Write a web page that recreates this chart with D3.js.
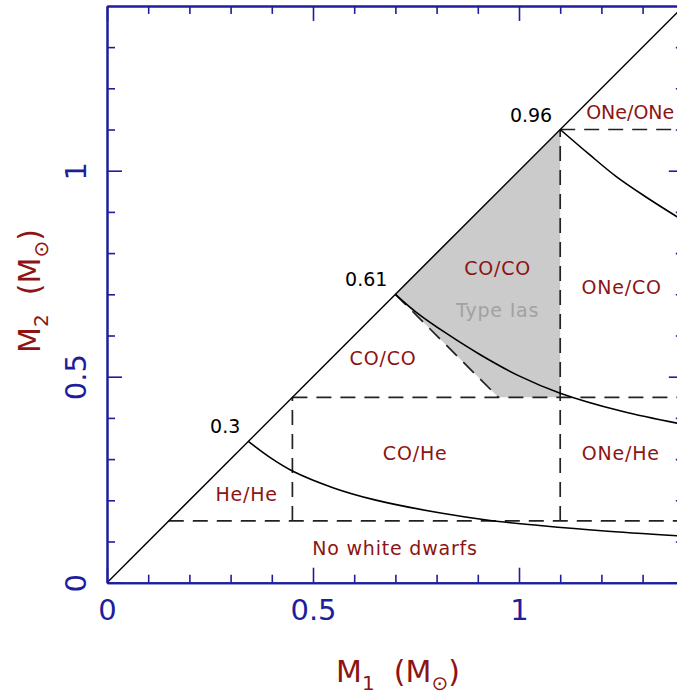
<!DOCTYPE html>
<html>
<head>
<meta charset="utf-8">
<script src="https://cdn.jsdelivr.net/npm/d3@7"></script>
<style>
  html, body { margin: 0; padding: 0; background: #fff; }
  svg { display: block; font-family: "DejaVu Sans", sans-serif; }
</style>
</head>
<body>
<svg id="chart" width="677" height="696"></svg>
<script>
// ---- axis ticks (solar masses) ----
const majorTicks = [0, 0.5, 1];
const majorTickLabels = ["0", "0.5", "1"];
const minorTicks = [0.1, 0.2, 0.3, 0.4, 0.6, 0.7, 0.8, 0.9, 1.1, 1.2, 1.3];
const axisMax = 1.4;

// ---- composition boundaries (solar masses) ----
const heLimit = 0.15;        // below: no white dwarf
const coLimit = 0.45;        // He / CO boundary
const oneLimit = 1.1;        // CO / ONe boundary
const chandrasekhar = 1.4;   // M1 + M2 = Mch
const sumLineM1 = [0.70, 0.95];

// ---- solid curves starting on the diagonal ----
const curveHeM1 = [0.343, 0.40, 0.45, 0.55, 0.65, 0.81, 0.93, 1.05, 1.20, 1.40];
const curveHeM2 = [0.343, 0.301, 0.271, 0.230, 0.201, 0.169, 0.151, 0.139, 0.126, 0.113];
const curveCoM1 = [0.70, 0.75, 0.824, 0.905, 1.00, 1.10, 1.25, 1.40];
const curveCoM2 = [0.70, 0.657, 0.605, 0.554, 0.502, 0.460, 0.416, 0.384];
const curveOneM1 = [1.10, 1.17, 1.237, 1.31, 1.40];
const curveOneM2 = [1.10, 1.04, 0.985, 0.935, 0.878];
const curveTags = ["0.3", "0.61", "0.96"];

// ---- region names ----
const regionNames = ["He/He", "CO/He", "CO/CO", "CO/CO", "ONe/He", "ONe/CO", "ONe/ONe", "No white dwarfs"];
const iaLabel = "Type Ias";

// ---- drawing ----
const axisBlue = "#1e1e9c";
const labelRed = "#8c1414";
const dashStyle = "15,9";

const svg = d3.select("#chart");
const xScale = d3.scaleLinear().domain([0, axisMax]).range([107, 683.8]);
const yScale = d3.scaleLinear().domain([0, axisMax]).range([582.7, 5.9]);

svg.append("rect").attr("width", 677).attr("height", 696).attr("fill", "#fff");

svg.append("defs").append("clipPath").attr("id", "plotClip")
  .append("rect")
  .attr("x", xScale(0)).attr("y", yScale(axisMax))
  .attr("width", xScale(axisMax) - xScale(0)).attr("height", yScale(0) - yScale(axisMax));

const plot = svg.append("g").attr("clip-path", "url(#plotClip)");
const straight = d3.line().x(d => xScale(d[0])).y(d => yScale(d[1]));
const closed = d3.line().x(d => xScale(d[0])).y(d => yScale(d[1])).curve(d3.curveLinearClosed);
const smooth = d3.line().x(d => xScale(d[0])).y(d => yScale(d[1])).curve(d3.curveCatmullRom.alpha(0.5));

// Type Ia region: double CO, total above Mch
const iaRegion = [
  [sumLineM1[0], chandrasekhar - sumLineM1[0]],
  [oneLimit, oneLimit],
  [oneLimit, coLimit],
  [chandrasekhar - coLimit, coLimit]
];
plot.append("path").datum(iaRegion)
  .attr("d", closed)
  .attr("fill", "#cbcbcb").attr("stroke", "none");

// dashed boundaries
const dashed = [
  [[heLimit, heLimit], [axisMax, heLimit]],
  [[coLimit, coLimit], [axisMax, coLimit]],
  [[oneLimit, oneLimit], [axisMax, oneLimit]],
  [[coLimit, heLimit], [coLimit, coLimit]],
  [[oneLimit, heLimit], [oneLimit, oneLimit]],
  [[sumLineM1[0], chandrasekhar - sumLineM1[0]], [sumLineM1[1], chandrasekhar - sumLineM1[1]]]
];
plot.selectAll("path.dash").data(dashed).join("path")
  .attr("class", "dash")
  .attr("d", straight)
  .attr("fill", "none").attr("stroke", "#222").attr("stroke-width", 1.7)
  .attr("stroke-dasharray", dashStyle);

// diagonal M1 = M2
plot.append("path").datum([[0, 0], [axisMax, axisMax]])
  .attr("d", straight)
  .attr("fill", "none").attr("stroke", "#000").attr("stroke-width", 1.5);

// curves
const curves = [
  d3.zip(curveHeM1, curveHeM2),
  d3.zip(curveCoM1, curveCoM2),
  d3.zip(curveOneM1, curveOneM2)
];
plot.selectAll("path.curve").data(curves).join("path")
  .attr("class", "curve")
  .attr("d", smooth)
  .attr("fill", "none").attr("stroke", "#000").attr("stroke-width", 1.6);

// mass tags at the start of each curve
svg.selectAll("text.tag").data(curves).join("text")
  .attr("class", "tag")
  .attr("x", d => xScale(d[0][0]) - 8)
  .attr("y", d => yScale(d[0][1]) - 8)
  .attr("text-anchor", "end")
  .attr("font-size", 19).attr("fill", "#000")
  .text((d, i) => curveTags[i]);

// region names
const regionPos = [
  [0.339, 0.215], [0.748, 0.314], [0.670, 0.545], [0.948, 0.765],
  [1.247, 0.316], [1.249, 0.718], [1.163, 1.142], [0.699, 0.084]
];
plot.selectAll("text.region").data(regionNames).join("text")
  .attr("class", "region")
  .attr("x", (d, i) => xScale(regionPos[i][0]))
  .attr("y", (d, i) => yScale(regionPos[i][1]))
  .attr("text-anchor", d => d === "ONe/ONe" ? "start" : "middle")
  .attr("dominant-baseline", "central")
  .attr("font-size", 19)
  .attr("letter-spacing", d => d === "ONe/ONe" ? 0 : 0.8)
  .attr("fill", labelRed)
  .text(d => d);

plot.append("text")
  .attr("x", xScale(0.948)).attr("y", yScale(0.663))
  .attr("text-anchor", "middle").attr("dominant-baseline", "central")
  .attr("font-size", 19).attr("letter-spacing", 0.8)
  .attr("fill", "#a2a2a2")
  .text(iaLabel);

// ---- axes: ticks point inward on all four sides ----
function styleAxis(g) {
  g.select(".domain").attr("stroke", axisBlue).attr("stroke-width", 2);
  g.selectAll(".tick line").attr("stroke", axisBlue).attr("stroke-width", 1.6);
  g.selectAll(".tick text").attr("fill", axisBlue).attr("font-size", 29)
    .attr("font-family", "DejaVu Sans, sans-serif");
}
const fmt = (d, i) => majorTickLabels[i];

const axisB = svg.append("g").attr("transform", `translate(0,${yScale(0)})`);
axisB.append("g").call(d3.axisBottom(xScale).tickValues(minorTicks).tickSizeInner(-8).tickSizeOuter(0).tickFormat("")).call(styleAxis);
axisB.append("g").call(d3.axisBottom(xScale).tickValues(majorTicks).tickSizeInner(-15).tickSizeOuter(0).tickPadding(17).tickFormat(fmt)).call(styleAxis);

const axisT = svg.append("g").attr("transform", `translate(0,${yScale(axisMax)})`);
axisT.append("g").call(d3.axisTop(xScale).tickValues(minorTicks).tickSizeInner(-8).tickSizeOuter(0).tickFormat("")).call(styleAxis);
axisT.append("g").call(d3.axisTop(xScale).tickValues(majorTicks).tickSizeInner(-15).tickSizeOuter(0).tickFormat("")).call(styleAxis);

const axisL = svg.append("g").attr("transform", `translate(${xScale(0)},0)`);
axisL.append("g").call(d3.axisLeft(yScale).tickValues(minorTicks).tickSizeInner(-8).tickSizeOuter(0).tickFormat("")).call(styleAxis);
const axisLMajor = axisL.append("g").call(d3.axisLeft(yScale).tickValues(majorTicks).tickSizeInner(-15).tickSizeOuter(0).tickFormat(fmt)).call(styleAxis);
axisLMajor.selectAll(".tick text")
  .attr("x", null).attr("dy", null)
  .attr("text-anchor", "middle")
  .attr("transform", "translate(-21,0) rotate(-90)");

const axisR = svg.append("g").attr("transform", `translate(${xScale(axisMax)},0)`);
axisR.append("g").call(d3.axisRight(yScale).tickValues(minorTicks).tickSizeInner(-8).tickSizeOuter(0).tickFormat("")).call(styleAxis);
axisR.append("g").call(d3.axisRight(yScale).tickValues(majorTicks).tickSizeInner(-15).tickSizeOuter(0).tickFormat("")).call(styleAxis);

// ---- axis titles ----
function massTitle(sel, idx) {
  sel.attr("fill", labelRed).attr("font-size", 30).attr("text-anchor", "middle")
    .style("white-space", "pre");
  sel.append("tspan").text("M");
  sel.append("tspan").attr("font-size", 20).attr("dy", 8).text(idx);
  sel.append("tspan").attr("dy", -8).text("  (M");
  sel.append("tspan").attr("font-size", 20).attr("dy", 8).text("\u2299");
  sel.append("tspan").attr("dy", -8).text(")");
}
svg.append("text").attr("x", 398).attr("y", 682).call(massTitle, "1");
svg.append("g").attr("transform", "translate(40,291) rotate(-90)")
  .append("text").call(massTitle, "2");
</script>
</body>
</html>
